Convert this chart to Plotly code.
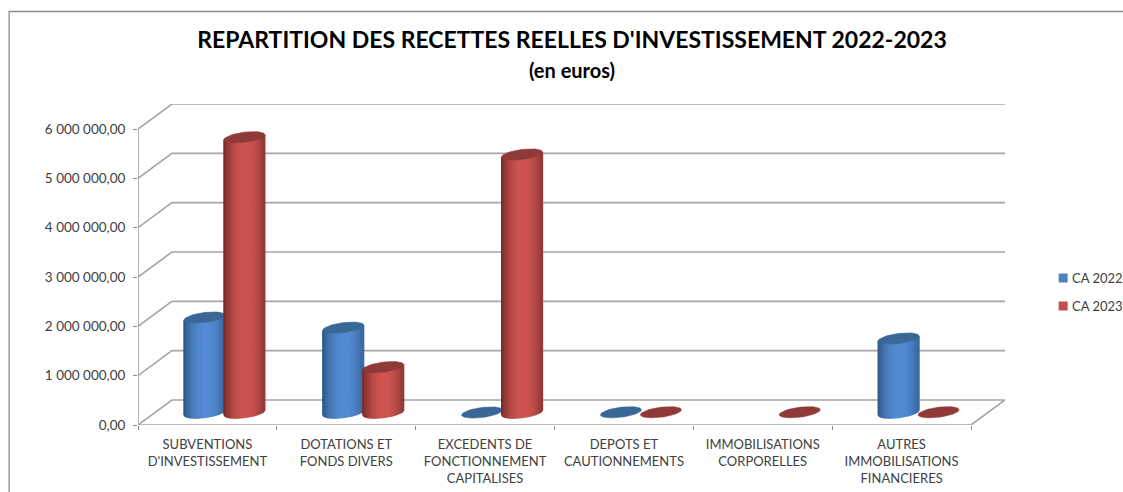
import numpy as np
import plotly.graph_objects as go

categories = ["SUBVENTIONS<br>D'INVESTISSEMENT", "DOTATIONS ET<br>FONDS DIVERS",
              "EXCEDENTS DE<br>FONCTIONNEMENT<br>CAPITALISES", "DEPOTS ET<br>CAUTIONNEMENTS",
              "IMMOBILISATIONS<br>CORPORELLES", "AUTRES<br>IMMOBILISATIONS<br>FINANCIERES"]
ca_2022 = [1925000, 1720000, 0, 5000, None, 1500000]
ca_2023 = [5580000, 920000, 5230000, 5000, 5000, 5000]
y_ticks = [0, 1000000, 2000000, 3000000, 4000000, 5000000, 6000000]
y_labels = ["0,00", "1 000 000,00", "2 000 000,00", "3 000 000,00",
            "4 000 000,00", "5 000 000,00", "6 000 000,00"]
series_names = ["CA 2022", "CA 2023"]

W, H = 1123, 492
ML, MR, MT, MB = 137.5, 117.7, 104, 67
FONT = "Lato"
DX = 34 / 138.9           # depth of the 3D box, in category units
DY = 25 / 49.33 * 1e6     # depth of the 3D box, in value units
RX = 20.5 / 138.9
RY = 5.0 / 49.33 * 1e6
SHEAR = 2.5 / 49.33 * 1e6
GRID = "#a6a6a6"
AXIS = "#8c8c8c"

PALETTE = [
    dict(edge=(44, 84, 133), mid=(83, 139, 210), cap="#3b6797", key="#4f81bd"),
    dict(edge=(112, 42, 40), mid=(205, 84, 80), cap="#8f3a38", key="#c0504d"),
]
OFFSETS = [-0.144, 0.144]

fig = go.Figure()


def line(xs, ys, color=GRID, width=1.6):
    fig.add_trace(go.Scatter(x=xs, y=ys, mode="lines", showlegend=False, hoverinfo="skip",
                             line=dict(color=color, width=width)))


# walls and floor
for v in y_ticks[1:]:
    line([0, DX, 6 + DX], [v, v + DY, v + DY])
line([0, 0], [0, y_ticks[-1]], AXIS, 1.3)
line([0, DX, 6 + DX, 6, 0], [0, DY, DY, 0, 0])


def mix(a, b, t):
    return "rgb(%d,%d,%d)" % tuple(round(a[i] + (b[i] - a[i]) * t) for i in range(3))


def cylinder(cx, value, pal, name):
    base = DY / 2
    top = base + value
    u = np.linspace(-1, 1, 28)
    px = cx + RX * u
    circ = np.sqrt(np.clip(1 - u ** 2, 0, 1))
    low = -RY * circ + SHEAR * u
    if value > 30000:
        for k in range(len(u) - 1):
            pos = (u[k] + u[k + 1]) / 2
            t = max(0.0, 1 - abs((pos - 0.08) / 1.08) ** 2.2)
            c = mix(pal["edge"], pal["mid"], t)
            fig.add_trace(go.Scatter(
                x=[px[k], px[k + 1], px[k + 1], px[k], px[k]],
                y=[base + low[k], base + low[k + 1], top + low[k + 1], top + low[k], base + low[k]],
                mode="lines", fill="toself", fillcolor=c, line=dict(color=c, width=1.2),
                showlegend=False, hoverinfo="skip", name=name))
    a = np.linspace(0, 2 * np.pi, 60)
    fig.add_trace(go.Scatter(
        x=cx + RX * np.cos(a), y=top + RY * np.sin(a) + SHEAR * np.cos(a),
        mode="lines", fill="toself", fillcolor=pal["cap"], line=dict(color=pal["cap"], width=0.6),
        showlegend=False, hoverinfo="skip", name=name))


for i in range(len(categories)):
    for vals, off, pal, name in zip([ca_2022, ca_2023], OFFSETS, PALETTE, series_names):
        if vals[i] is not None:
            cylinder(i + 0.5 + DX / 2 + off, vals[i], pal, name)


def xp(p):
    return (p - ML) / (W - ML - MR)


def yp(p):
    return (H - MB - p) / (H - MT - MB)


shapes = [dict(type="path", xref="paper", yref="paper",
               path=f"M {xp(W + 2)} {yp(11.5)} L {xp(8.5)} {yp(11.5)} L {xp(8.5)} {yp(H + 2)}",
               line=dict(color="#8c8c8c", width=1.3))]
annotations = []
for name, pal, py in zip(series_names, PALETTE, [278, 306]):
    shapes.append(dict(type="rect", xref="paper", yref="paper", x0=xp(1059), x1=xp(1068),
                       y0=yp(py + 4.5), y1=yp(py - 4.5), fillcolor=pal["key"], line=dict(width=0)))
    annotations.append(dict(text=name, xref="paper", yref="paper", x=xp(1071), y=yp(py),
                            xanchor="left", yanchor="middle", showarrow=False, xshift=-1,
                            font=dict(family=FONT, size=13, color="#404040")))

fig.update_layout(
    width=W, height=H, autosize=False,
    margin=dict(l=ML, r=MR, t=MT, b=MB, pad=0),
    paper_bgcolor="white", plot_bgcolor="white", showlegend=False,
    title=dict(text="<b>REPARTITION DES RECETTES REELLES D'INVESTISSEMENT 2022-2023</b><br>"
                    "<span style='font-size:20px'><b>(en euros)</b></span>",
               x=572 / W, xanchor="center", xref="container",
               y=1 - 48 / H, yanchor="top", yref="container",
               font=dict(family=FONT, size=23, color="black")),
    xaxis=dict(range=[0, 6 + DX], showgrid=False, zeroline=False, showline=False, automargin=False,
               tickmode="array", tickvals=[i + 0.5 for i in range(6)], ticktext=categories,
               ticks="", ticklabelstandoff=10, tickangle=0,
               tickfont=dict(family=FONT, size=13, color="#404040"),
               minor=dict(tickvals=list(range(7)), ticks="outside", ticklen=4,
                          tickcolor=AXIS, tickwidth=1.3, showgrid=False)),
    yaxis=dict(range=[0, 6e6 + DY], showgrid=False, zeroline=False, showline=False, automargin=False,
               tickmode="array", tickvals=y_ticks, ticktext=y_labels,
               ticks="outside", ticklen=4, tickcolor=AXIS, tickwidth=1.3, ticklabelstandoff=5,
               tickfont=dict(family=FONT, size=13.5, color="#404040")),
    shapes=shapes, annotations=annotations,
)
fig.write_html("out.html", post_script="document.body.style.margin='0';document.body.style.overflow='hidden';",
               config=dict(displayModeBar=False))
